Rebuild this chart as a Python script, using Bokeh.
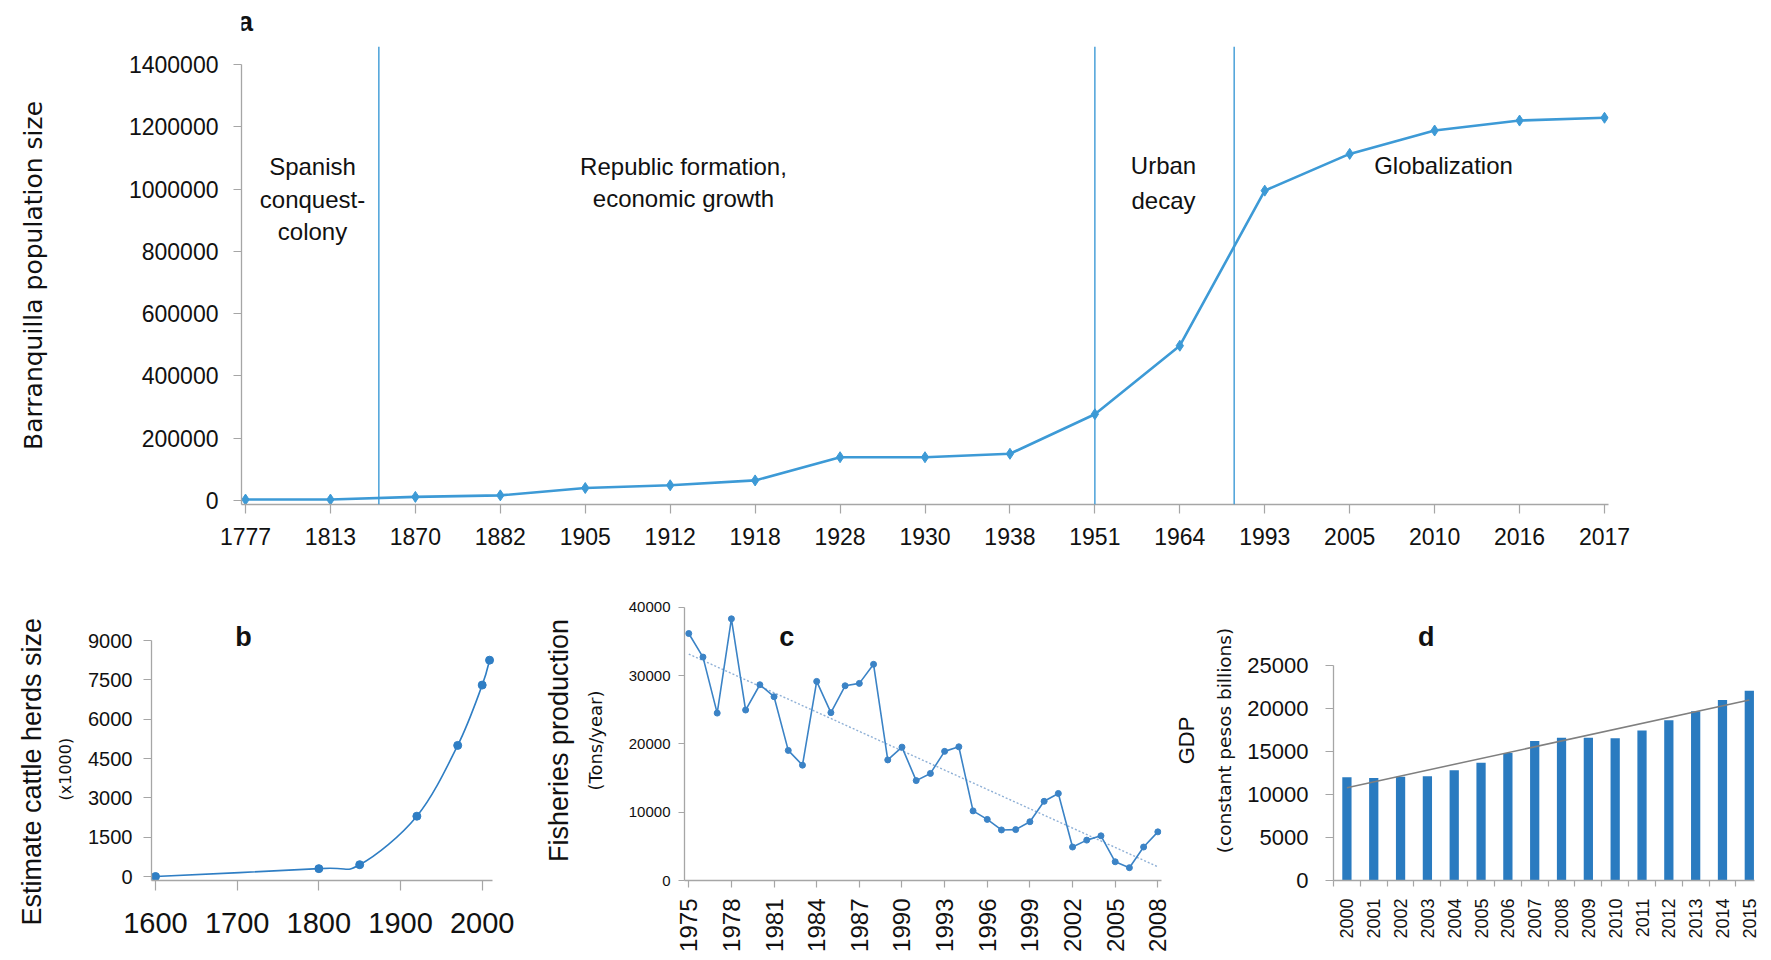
import math
import numpy as np
from bokeh.plotting import figure
from bokeh.layouts import column, row
from bokeh.models import (Range1d, FixedTicker, LinearAxis, Span, Label,
                          BasicTickFormatter, Title)
from bokeh.embed import file_html
from bokeh.resources import INLINE

# ---------------- data ----------------
pop_years = ["1777", "1813", "1870", "1882", "1905", "1912", "1918", "1928", "1930",
             "1938", "1951", "1964", "1993", "2005", "2010", "2016", "2017"]
pop_values = [3000, 3000, 11600, 16500, 40100, 48900, 64500, 139000, 139000,
              150000, 277000, 497000, 995000, 1113000, 1188000, 1220000, 1229000]
era_bounds = [1.57, 10.0, 11.64]          # boundaries between eras, in category units
era_lines = [["Spanish", "conquest-", "colony"],
             ["Republic formation,", "economic growth"],
             ["Urban", "decay"],
             ["Globalization"]]

cattle_years = [1600, 1800, 1850, 1920, 1970, 2000, 2009]
cattle_values = [0, 300, 450, 2300, 5000, 7300, 8250]

fish_years = list(range(1975, 2009))
fish_values = [36150, 32700, 24500, 38300, 24950, 28650, 26900, 19040, 16880, 29140,
               24570, 28500, 28850, 31640, 17650, 19520, 14620, 15670, 18900, 19570,
               10190, 8940, 7400, 7450, 8600, 11590, 12740, 4900, 5910, 6540,
               2740, 1875, 4900, 7120]
fish_tick_years = list(range(1975, 2009, 3))

gdp_years = list(range(2000, 2016))
gdp_values = [12000, 11930, 12050, 12130, 12830, 13700, 14840, 16220, 16610, 16610,
              16540, 17440, 18620, 19690, 20980, 22050]

# ---------------- styling helpers ----------------
TICK_FONT = "Liberation Sans"
AX_COL = "#a6a6a6"
TXT_COL = "#111111"


def lin(v0, p0, v1, p1):
    k = (v1 - v0) / (p1 - p0)
    return lambda p: v0 + (p - p0) * k


def make_fig(w, h, bl, br, bt, bb, xr, yr, axes=True):
    kw = {} if axes else dict(x_axis_type=None, y_axis_type=None)
    p = figure(width=w, height=h, x_range=Range1d(*xr), y_range=Range1d(*yr),
               output_backend="svg", toolbar_location=None,
               min_border_left=bl, min_border_right=br,
               min_border_top=bt, min_border_bottom=bb, **kw)
    p.grid.visible = False
    p.outline_line_color = None
    p.background_fill_color = "white"
    p.border_fill_color = "white"
    return p


def style_axis(ax, size, tick_out, standoff):
    ax.axis_line_color = AX_COL
    ax.axis_line_width = 1.3
    ax.major_tick_line_color = AX_COL
    ax.major_tick_line_width = 1.2
    ax.major_tick_out = tick_out
    ax.major_tick_in = 0
    ax.minor_tick_line_color = None
    ax.major_label_text_font = TICK_FONT
    ax.major_label_text_font_size = f"{size}px"
    ax.major_label_text_color = TXT_COL
    ax.major_label_standoff = standoff


def set_axis_label(ax, text, font, size, standoff):
    ax.axis_label = text
    ax.axis_label_text_font = font
    ax.axis_label_text_font_size = f"{size}px"
    ax.axis_label_text_font_style = "normal"
    ax.axis_label_text_color = TXT_COL
    ax.axis_label_standoff = standoff


def add_title_axis(p, text, font, size, standoff):
    ax = LinearAxis(ticker=FixedTicker(ticks=[]))
    ax.axis_line_color = None
    ax.major_tick_line_color = None
    ax.minor_tick_line_color = None
    ax.major_tick_out = 0
    ax.major_tick_in = 0
    ax.minor_tick_out = 0
    ax.minor_tick_in = 0
    ax.major_label_standoff = 0
    set_axis_label(ax, text, font, size, standoff)
    p.add_layout(ax, "left")


def letter(p, x, y, text, size=27):
    p.add_layout(Label(x=x, y=y, text=text, text_font=TICK_FONT, text_font_style="bold",
                       text_font_size=f"{size}px", text_color=TXT_COL,
                       text_align="center", text_baseline="middle"))


W = 1770

# ---------------- panel a ----------------
a_x = lin(0, 245, 16, 1604)            # pixel -> category index
a_y = lin(0, 500, 1.4e6, 64)           # pixel -> value
a_xr = (a_x(241), a_x(1608))
a_yr = (a_y(504), a_y(46))

strip = make_fig(W, 40, 241, W - 1608, 0, 0, a_xr, (0, 40), axes=False)
letter(strip, a_x(245), 40 - 21, "a")

pa = make_fig(W, 516, 241, W - 1608, 6, 52, a_xr, a_yr)
A_COL = "#3d9ad6"
idx = list(range(len(pop_years)))
for b in era_bounds:
    pa.add_layout(Span(location=b, dimension="height", line_color=A_COL, line_width=1.4))
pa.line(idx, pop_values, line_color=A_COL, line_width=2.6)
pa.scatter(idx, pop_values, marker="diamond", size=11, fill_color=A_COL, line_color=A_COL)

style_axis(pa.xaxis[0], 23, 9, 14)
pa.xaxis[0].ticker = FixedTicker(ticks=idx)
pa.xaxis[0].major_label_overrides = {i: y for i, y in enumerate(pop_years)}
style_axis(pa.yaxis[0], 23, 8, 15)
pa.yaxis[0].ticker = FixedTicker(ticks=list(range(0, 1400001, 200000)))
pa.yaxis[0].formatter = BasicTickFormatter(use_scientific=False)
pa.yaxis[0].bounds = (a_yr[0], 1400000)
add_title_axis(pa, "Barranquilla population size", "DejaVu Sans", 25, 78)

era_pos = [(312, [166, 199, 231]), (683, [166, 198]), (1163, [165, 200]), (1443, [165])]
for lines, (px, pys) in zip(era_lines, era_pos):
    for t, py in zip(lines, pys):
        pa.add_layout(Label(x=a_x(px), y=a_y(py), text=t, text_font=TICK_FONT,
                            text_font_size="24px", text_color=TXT_COL,
                            text_align="center", text_baseline="middle"))

# ---------------- bottom row: common frame top/bottom ----------------
RH = 402
TOP, BOT = 556 + 44, 880           # page y of frame top / bottom
BT, BB = 44, RH - (BOT - 556)

# ---------------- panel b ----------------
b_x = lin(1600, 155, 2000, 481.7)
b_y = lin(0, 876, 9000, 640)
b_xr = (b_x(151), b_x(495))
b_yr = (b_y(BOT), b_y(TOP))
pb = make_fig(540, RH, 151, 540 - 495, BT, BB, b_xr, b_yr)
B_COL = "#2f7ec4"
xs = np.array(cattle_years, float)
ys = np.array(cattle_values, float)
n = len(xs)
bx0, by0, bx1, by1, c0x, c0y, c1x, c1y = ([] for _ in range(8))
for i in range(n - 1):
    im, ip = max(i - 1, 0), min(i + 2, n - 1)
    bx0.append(xs[i]); by0.append(ys[i]); bx1.append(xs[i + 1]); by1.append(ys[i + 1])
    c0x.append(xs[i] + (xs[i + 1] - xs[im]) / 6); c0y.append(ys[i] + (ys[i + 1] - ys[im]) / 6)
    c1x.append(xs[i + 1] - (xs[ip] - xs[i]) / 6); c1y.append(ys[i + 1] - (ys[ip] - ys[i]) / 6)
pb.bezier(x0=bx0, y0=by0, x1=bx1, y1=by1, cx0=c0x, cy0=c0y, cx1=c1x, cy1=c1y,
          line_color=B_COL, line_width=1.6)
pb.scatter(cattle_years, cattle_values, size=8, fill_color=B_COL, line_color=B_COL)
style_axis(pb.xaxis[0], 29, 10, 22)
pb.xaxis[0].ticker = FixedTicker(ticks=[1600, 1700, 1800, 1900, 2000])
pb.xaxis[0].bounds = (b_xr[0], 2012)
style_axis(pb.yaxis[0], 20, 8, 11)
pb.yaxis[0].ticker = FixedTicker(ticks=list(range(0, 9001, 1500)))
pb.yaxis[0].bounds = (b_yr[0], 9000)
pb.add_layout(Title(text="(x1000)", align="left", offset=BOT - 800, vertical_align="top",
                    standoff=18, text_font="DejaVu Sans", text_font_size="16px",
                    text_font_style="normal", text_color=TXT_COL), "left")
pb.add_layout(Title(text="Estimate cattle herds size", align="left", offset=BOT - 925,
                    standoff=0, text_font=TICK_FONT, text_font_size="27px",
                    text_font_style="normal", text_color=TXT_COL), "left")
letter(pb, b_x(243), b_y(636), "b")

# ---------------- panel c ----------------
c_x = lin(1975, 684.3, 2008, 1157.3)
c_y = lin(0, 880, 40000, 606.7)
c_xr = (c_x(680), c_x(1161))
c_yr = (c_y(BOT), c_y(TOP))
pc = make_fig(630, RH, 140, 1170 - 1161, BT, BB, c_xr, c_yr)
C_COL = "#3b83c6"
coef = np.polyfit(fish_years, fish_values, 1)
tx = [fish_years[0], fish_years[-1]]
pc.line(tx, list(np.polyval(coef, tx)), line_color="#8fb0d6", line_width=1.4, line_dash="2 2")
pc.line(fish_years, fish_values, line_color=C_COL, line_width=1.6)
pc.scatter(fish_years, fish_values, size=6, fill_color=C_COL, line_color=C_COL)
style_axis(pc.xaxis[0], 24, 7, 11)
pc.xaxis[0].ticker = FixedTicker(ticks=fish_tick_years)
pc.xaxis[0].major_label_orientation = math.pi / 2
style_axis(pc.yaxis[0], 15, 6, 8)
pc.yaxis[0].ticker = FixedTicker(ticks=list(range(0, 40001, 10000)))
pc.yaxis[0].bounds = (0, 40000)
set_axis_label(pc.yaxis[0], "(Tons/year)", "DejaVu Sans", 18, 20)
add_title_axis(pc, "Fisheries production", TICK_FONT, 27, 8)
letter(pc, c_x(783), c_y(636), "c")

# ---------------- panel d ----------------
d_x = lin(2000, 1345.45, 2015, 1748.8)
d_y = lin(0, 880, 25000, 665)
d_xr = (d_x(1332), d_x(1754))
d_yr = (d_y(BOT), d_y(TOP))
pd_ = make_fig(W - 1170, RH, 162, W - 1754, BT, BB, d_xr, d_yr)
D_COL = "#2a7bc0"
pd_.vbar(x=gdp_years, top=gdp_values, width=0.345, bottom=0, fill_color=D_COL, line_color=None)
coef_d = np.polyfit(gdp_years, gdp_values, 1)
dx = [gdp_years[0], gdp_years[-1]]
pd_.line(dx, list(np.polyval(coef_d, dx)), line_color="#7f7f7f", line_width=1.5)
style_axis(pd_.xaxis[0], 18, 0, 12)
pd_.xaxis[0].ticker = FixedTicker(ticks=gdp_years, minor_ticks=[y - 0.5 for y in gdp_years])
pd_.xaxis[0].minor_tick_line_color = AX_COL
pd_.xaxis[0].minor_tick_line_width = 1.2
pd_.xaxis[0].minor_tick_out = 6
pd_.xaxis[0].minor_tick_in = 0
pd_.xaxis[0].major_label_orientation = math.pi / 2
style_axis(pd_.yaxis[0], 22, 8, 17)
pd_.yaxis[0].ticker = FixedTicker(ticks=list(range(0, 25001, 5000)))
pd_.yaxis[0].bounds = (0, 25000)
set_axis_label(pd_.yaxis[0], "(constant pesos billions)", "DejaVu Sans", 18.5, 9)
add_title_axis(pd_, "GDP", TICK_FONT, 22, 13)
letter(pd_, d_x(1425), d_y(636), "d")

layout = column(strip, pa, row(pb, pc, pd_))
open("out.html", "w").write(file_html(layout, INLINE))
